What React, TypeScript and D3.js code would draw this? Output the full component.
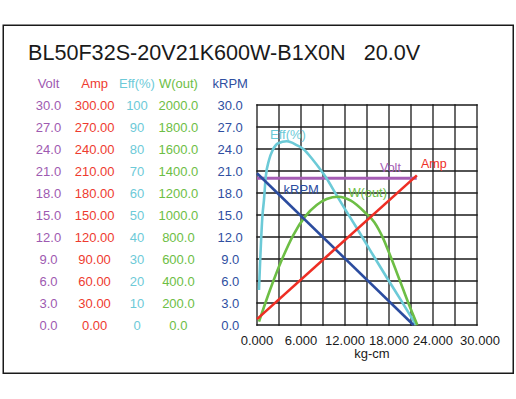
import React from "react";
import * as d3 from "d3";

const title = "BL50F32S-20V21K600W-B1X0N   20.0V";

const voltTicks = [0, 3, 6, 9, 12, 15, 18, 21, 24, 27, 30];
const ampTicks = [0, 30, 60, 90, 120, 150, 180, 210, 240, 270, 300];
const effTicks = [0, 10, 20, 30, 40, 50, 60, 70, 80, 90, 100];
const wTicks = [0, 200, 400, 600, 800, 1000, 1200, 1400, 1600, 1800, 2000];
const rpmTicks = [0, 3, 6, 9, 12, 15, 18, 21, 24, 27, 30];
const torqueTicks = [0, 6, 12, 18, 24, 30];

const voltTorque = [0, 21.78];
const voltValues = [20, 20];

const ampTorque = [0, 21.8];
const ampValues = [8, 204];

const rpmTorque = [0, 21.34];
const rpmValues = [20.7, 0];

const effTorque = [0.27, 0.75, 0.95, 1.19, 1.64, 2.14, 2.9, 4.05, 5.41, 6.31, 7.64, 8.59, 9.48, 10.64, 12.0, 13.77, 15.82, 17.86, 19.77, 21.68];
const effValues = [15.9, 50, 56.8, 67.3, 75, 79.5, 82.6, 83.5, 81.8, 80, 75, 70.9, 66.7, 60.2, 52.7, 43.2, 31.8, 20.7, 10.5, 0];

const wTorque = [0.27, 1.77, 3.37, 4.95, 6.55, 8.14, 9.5, 11.09, 12.8, 14.73, 16.0, 17.14, 18.23, 19.5, 20.64, 21.86];
const wValues = [30, 318, 591, 818, 985, 1091, 1145, 1166, 1130, 1023, 935, 797, 620, 400, 200, 0];

const C = {
  volt: "#A55DB4",
  amp: "#EE2E24",
  eff: "#6CCAD7",
  w: "#6DBE45",
  rpm: "#2B4C9F",
};

const FONT = "Arial, 'Liberation Sans', Helvetica, sans-serif";

export default function App() {
  const x = d3.scaleLinear().domain([0, 30]).range([257, 477]);
  const yVolt = d3.scaleLinear().domain([0, 30]).range([325, 105]);
  const yAmp = d3.scaleLinear().domain([0, 300]).range([325, 105]);
  const yEff = d3.scaleLinear().domain([0, 100]).range([325, 105]);
  const yW = d3.scaleLinear().domain([0, 2000]).range([325, 105]);
  const yRpm = d3.scaleLinear().domain([0, 30]).range([325, 105]);

  const mk = (xs: number[], ys: number[], ys2: d3.ScaleLinear<number, number>, curve: d3.CurveFactory) =>
    d3
      .line<number>()
      .x((_, i) => x(xs[i]))
      .y((d) => ys2(d))
      .curve(curve)(ys) || "";

  const gridX = d3.range(0, 31, 3);
  const gridY = voltTicks;

  const cols = [
    { name: "Volt", cx: 48.5, color: "#9E5AB1", ticks: voltTicks, fmt: (v: number) => v.toFixed(1), scale: yVolt },
    { name: "Amp", cx: 94.6, color: "#EE3B2F", ticks: ampTicks, fmt: (v: number) => v.toFixed(2), scale: yAmp },
    { name: "Eff(%)", cx: 137, color: "#6DCAD8", ticks: effTicks, fmt: (v: number) => String(v), scale: yEff },
    { name: "W(out)", cx: 178.4, color: "#6DBE45", ticks: wTicks, fmt: (v: number) => v.toFixed(1), scale: yW },
    { name: "kRPM", cx: 230.2, color: "#2F4FA1", ticks: rpmTicks, fmt: (v: number) => v.toFixed(1), scale: yRpm },
  ];

  return (
    <div style={{ position: "fixed", left: 0, top: 0 }}>
      <svg width={516} height={399} style={{ display: "block", background: "#fff" }} fontFamily={FONT}>
        <rect x={0} y={0} width={516} height={399} fill="#fff" />
        <rect x={3.25} y={25.25} width={510} height={348} fill="none" stroke="#1a1a1a" strokeWidth={1.5} />
        <text x={28} y={60} fontSize={21.6} fill="#1a1a1a" style={{ whiteSpace: "pre" }}>
          {title}
        </text>

        {cols.map((c) => (
          <g key={c.name} fill={c.color} fontSize={13} textAnchor="middle">
            <text x={c.cx} y={88}>{c.name}</text>
            {c.ticks.map((t) => (
              <text key={t} x={c.cx} y={c.scale(t)} dy="0.36em">
                {c.fmt(t)}
              </text>
            ))}
          </g>
        ))}

        <g stroke="#1a1a1a" strokeWidth={1.3}>
          {gridX.map((g) => (
            <line key={"gx" + g} x1={x(g)} x2={x(g)} y1={yVolt(0) + 0.65} y2={yVolt(30) - 0.65} />
          ))}
          {gridY.map((g) => (
            <line key={"gy" + g} x1={x(0) - 0.65} x2={x(30) + 0.65} y1={yVolt(g)} y2={yVolt(g)} />
          ))}
        </g>

        <g fill="none" strokeLinejoin="round">
          <path d={mk(voltTorque, voltValues, yVolt, d3.curveLinear)} stroke={C.volt} strokeWidth={3} />
          <path d={mk(effTorque, effValues, yEff, d3.curveMonotoneX)} stroke={C.eff} strokeWidth={2.6} />
          <path d={mk(wTorque, wValues, yW, d3.curveMonotoneX)} stroke={C.w} strokeWidth={2.6} />
          <path d={mk(rpmTorque, rpmValues, yRpm, d3.curveLinear)} stroke={C.rpm} strokeWidth={2.6} />
          <path d={mk(ampTorque, ampValues, yAmp, d3.curveLinear)} stroke={C.amp} strokeWidth={2.6} />
        </g>

        <text x={270} y={139} fontSize={13} fill={C.eff}>Eff(%)</text>
        <text x={380} y={172} fontSize={12.5} fill={C.volt}>Volt</text>
        <text x={421} y={168} fontSize={12.5} fill={C.amp}>Amp</text>
        <text x={283.5} y={193.5} fontSize={13} fill={C.rpm}>kRPM</text>
        <text x={348.5} y={197} fontSize={12.8} fill={C.w}>W(out)</text>

        <g fontSize={13} fill="#1a1a1a" textAnchor="middle">
          {torqueTicks.map((t) => (
            <text key={t} x={x(t) + (t === 30 ? 3 : 0)} y={345}>
              {t.toFixed(3)}
            </text>
          ))}
          <text x={372} y={358}>kg-cm</text>
        </g>
      </svg>
    </div>
  );
}
